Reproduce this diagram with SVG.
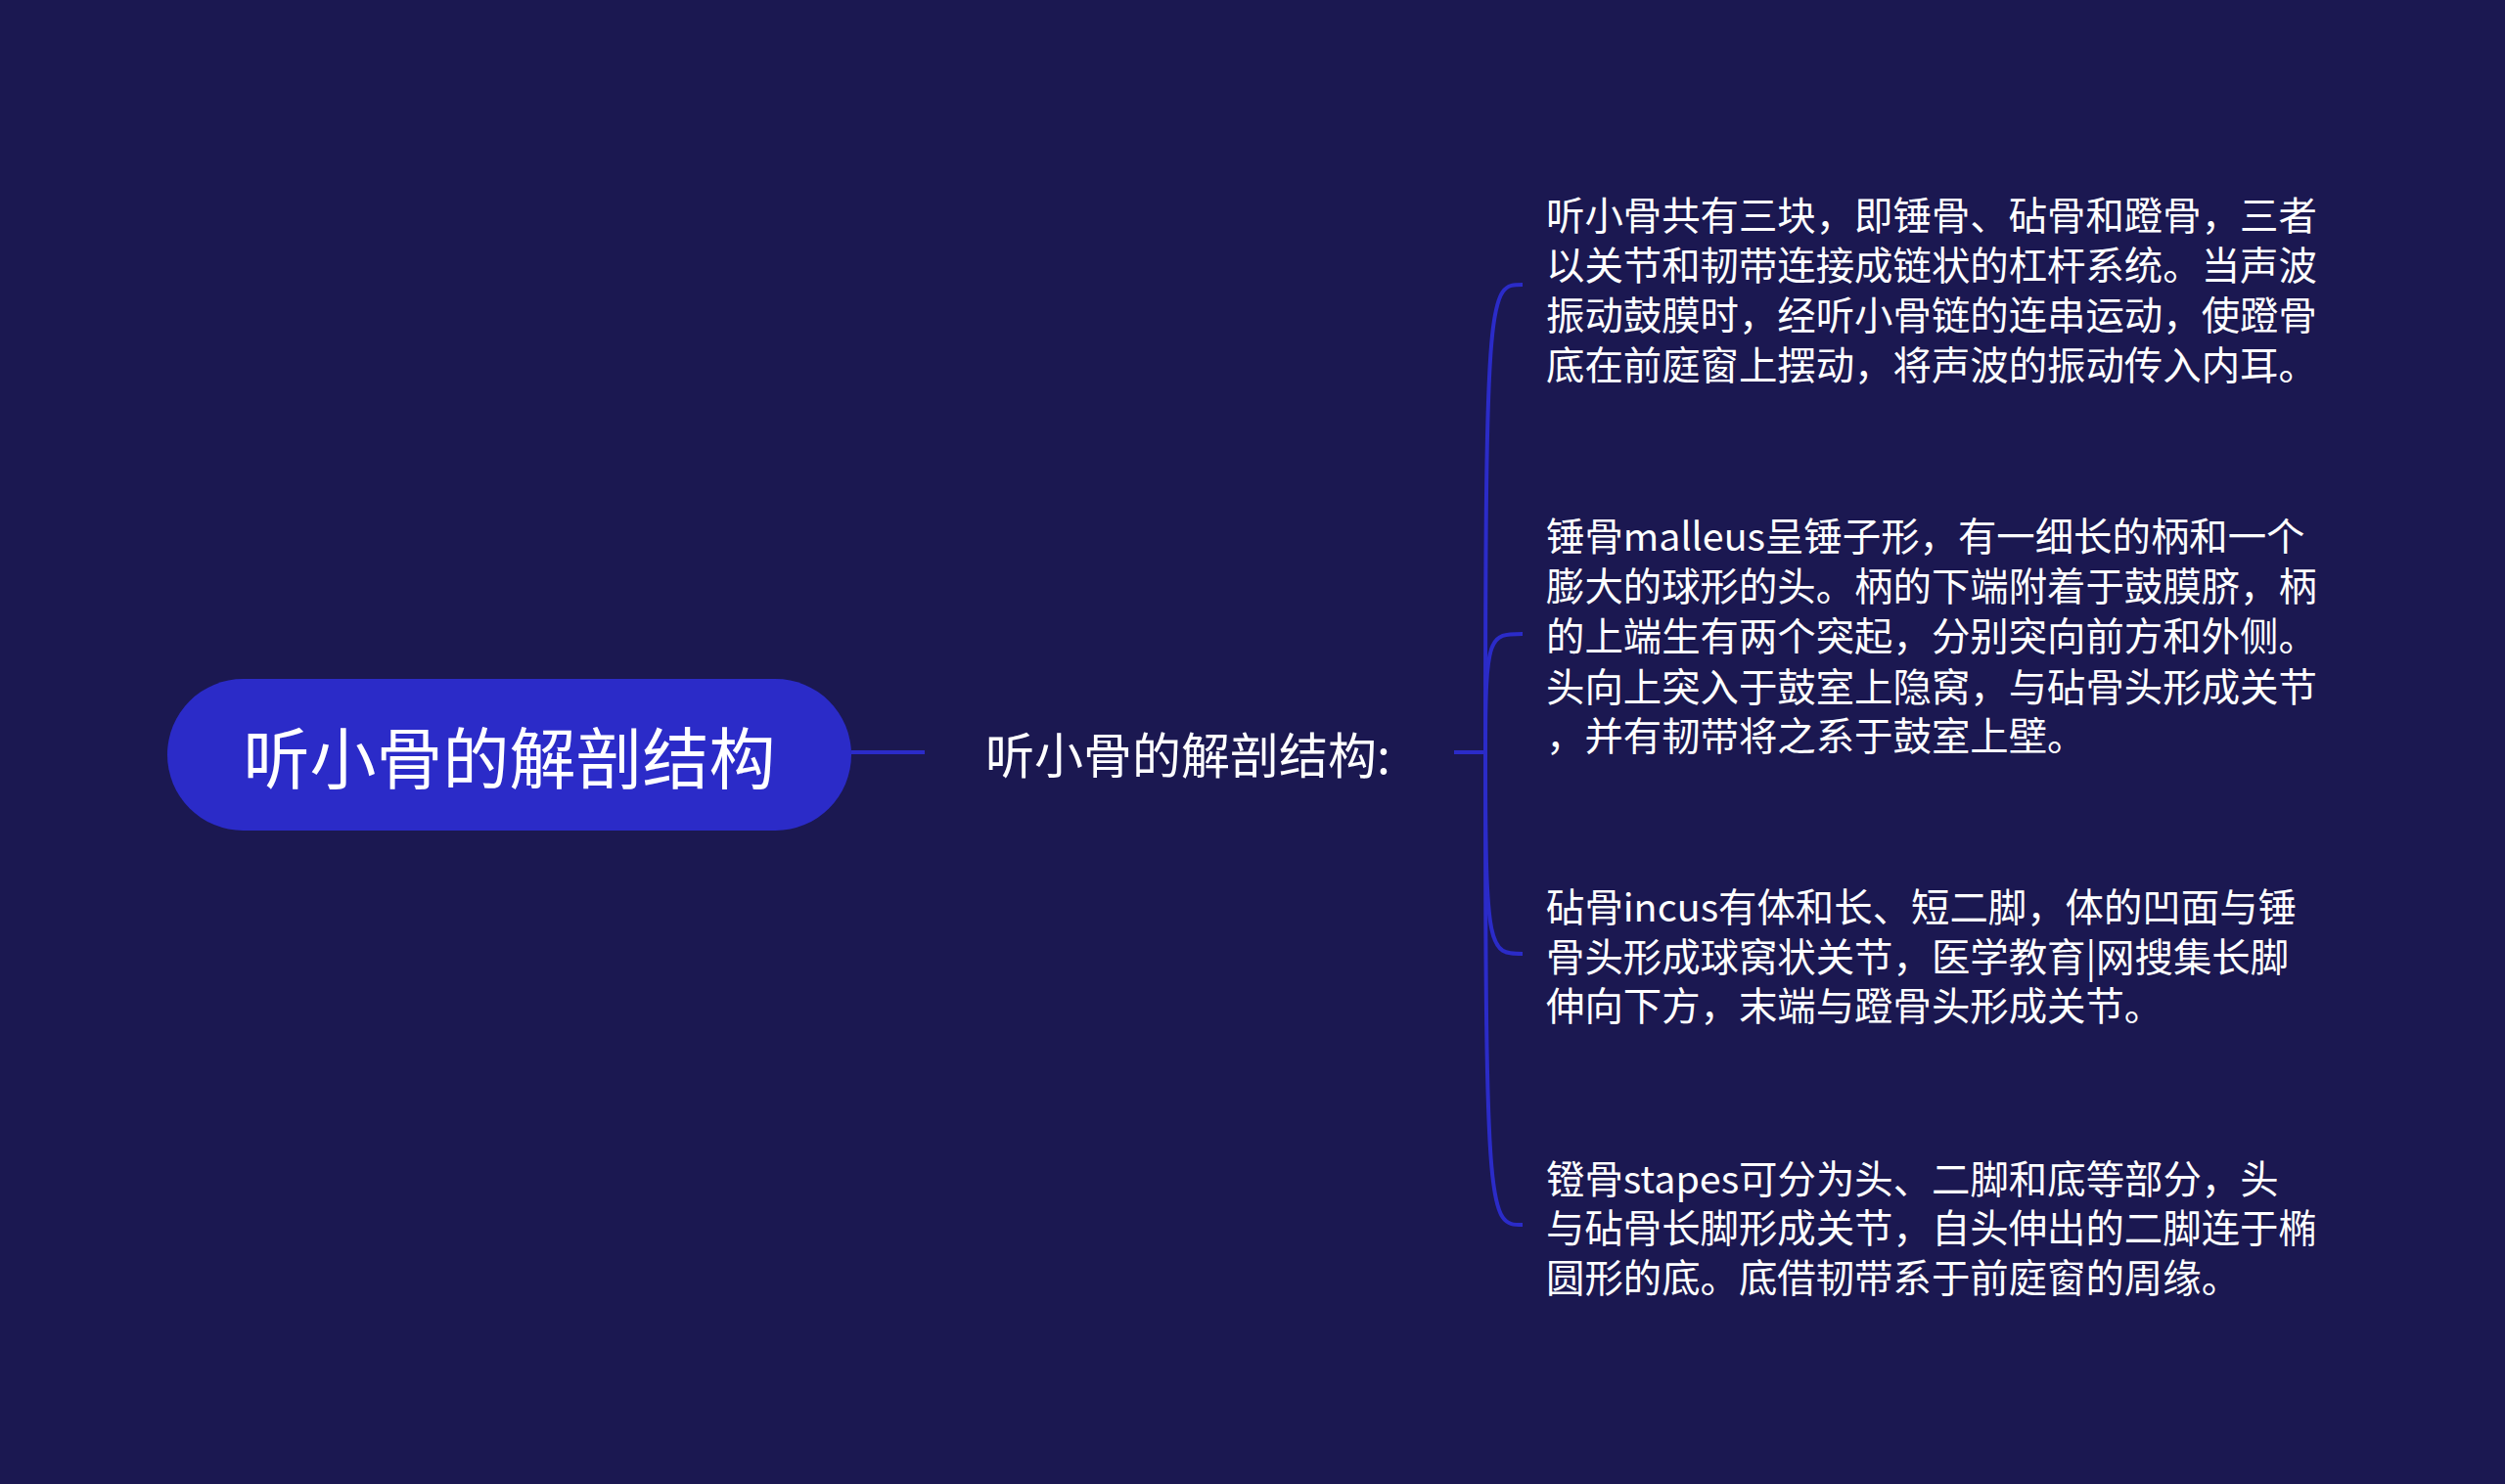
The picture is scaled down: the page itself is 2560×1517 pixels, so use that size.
<svg xmlns="http://www.w3.org/2000/svg" width="2560" height="1517" viewBox="0 0 2560 1517">
<style>
.t{font-family:"Noto Sans CJK SC","Noto Sans",sans-serif;fill:#ffffff;dominant-baseline:central}
.leaf{font-size:39.4px}
.ln{fill:none;stroke:#2b2bc8;stroke-width:4}
</style>
<rect x="0" y="0" width="2560" height="1517" fill="#1b1851"/>
<g id="connectors">
<path class="ln" d="M870,769 L945,769"/>
<path class="ln" d="M1486,769 L1518,769"/>
<path class="ln" d="M1518,769 C1518,291 1522,291 1556,291"/>
<path class="ln" d="M1518,769 C1518,648 1522,648 1556,648"/>
<path class="ln" d="M1518,769 C1518,975 1522,975 1556,975"/>
<path class="ln" d="M1518,769 C1518,1252 1522,1252 1556,1252"/>
</g>
<g id="root">
<rect x="171" y="694" width="699" height="155" rx="77.5" fill="#2b2bc8"/>
<text class="t" x="520.5" y="771" font-size="68" text-anchor="middle">听小骨的解剖结构</text>
</g>
<g id="sub">
<text class="t" x="1007" y="769" font-size="50">听小骨的解剖结构:</text>
</g>
<g id="leaf1">
<text class="t leaf" x="1580" y="217">听小骨共有三块，即锤骨、砧骨和蹬骨，三者</text>
<text class="t leaf" x="1580" y="268">以关节和韧带连接成链状的杠杆系统。当声波</text>
<text class="t leaf" x="1580" y="319">振动鼓膜时，经听小骨链的连串运动，使蹬骨</text>
<text class="t leaf" x="1580" y="370">底在前庭窗上摆动，将声波的振动传入内耳。</text>
</g>
<g id="leaf2">
<text class="t leaf" x="1580" y="545">锤骨malleus呈锤子形，有一细长的柄和一个</text>
<text class="t leaf" x="1580" y="596">膨大的球形的头。柄的下端附着于鼓膜脐，柄</text>
<text class="t leaf" x="1580" y="647">的上端生有两个突起，分别突向前方和外侧。</text>
<text class="t leaf" x="1580" y="699">头向上突入于鼓室上隐窝，与砧骨头形成关节</text>
<text class="t leaf" x="1580" y="749">，并有韧带将之系于鼓室上壁。</text>
</g>
<g id="leaf3">
<text class="t leaf" x="1580" y="924">砧骨incus有体和长、短二脚，体的凹面与锤</text>
<text class="t leaf" x="1580" y="975">骨头形成球窝状关节，医学教育|网搜集长脚</text>
<text class="t leaf" x="1580" y="1025">伸向下方，末端与蹬骨头形成关节。</text>
</g>
<g id="leaf4">
<text class="t leaf" x="1580" y="1202">镫骨stapes可分为头、二脚和底等部分，头</text>
<text class="t leaf" x="1580" y="1252">与砧骨长脚形成关节，自头伸出的二脚连于椭</text>
<text class="t leaf" x="1580" y="1303">圆形的底。底借韧带系于前庭窗的周缘。</text>
</g>
</svg>
